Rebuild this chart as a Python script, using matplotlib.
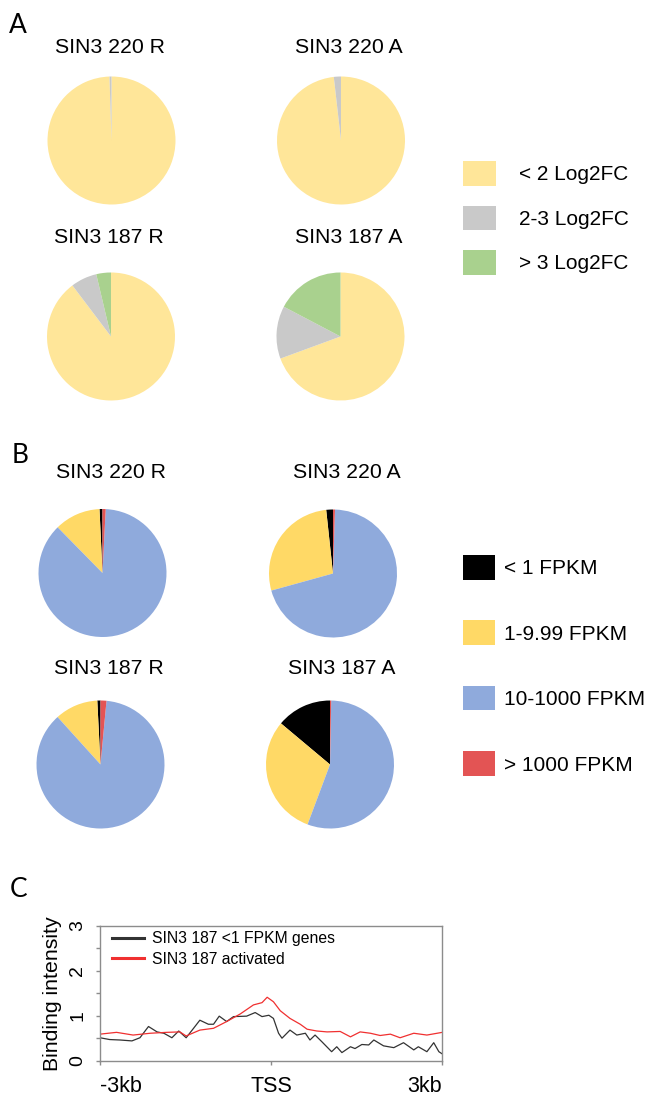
import numpy as np
import matplotlib
matplotlib.use("Agg")
import matplotlib.pyplot as plt
from matplotlib.patches import Patch
from matplotlib.lines import Line2D

plt.rcParams['font.family'] = ['Liberation Sans', 'DejaVu Sans']

# ---- data ----
# panel A: share of genes by Log2FC class
fc_labels = ['< 2 Log2FC', '2-3 Log2FC', '> 3 Log2FC']
fc_colors = ['#FFE699', '#C9C9C9', '#A9D18E']
fc_220_R = [99.5, 0.5, 0.0]
fc_220_A = [98.2, 1.8, 0.0]
fc_187_R = [89.7, 6.6, 3.7]
fc_187_A = [69.4, 13.3, 17.3]

# panel B: share of genes by expression class
fpkm_labels = ['< 1 FPKM', '1-9.99 FPKM', '10-1000 FPKM', '> 1000 FPKM']
fpkm_colors = ['#000000', '#FFD966', '#8FAADC', '#E35454']
fpkm_220_R = [0.75, 11.6, 86.85, 0.8]
fpkm_220_A = [1.7, 27.6, 70.2, 0.5]
fpkm_187_R = [0.8, 10.9, 86.8, 1.5]
fpkm_187_A = [13.9, 30.4, 55.4, 0.3]

pie_titles = ['SIN3 220 R', 'SIN3 220 A', 'SIN3 187 R', 'SIN3 187 A']

# panel C: binding profiles around TSS (kb)
low_x = [-3.0, -2.83, -2.65, -2.44, -2.30, -2.15, -2.00, -1.88, -1.74, -1.62, -1.49,
         -1.36, -1.25, -1.10, -1.01, -0.91, -0.78, -0.66, -0.43, -0.28, -0.16, -0.04,
         0.04, 0.13, 0.19, 0.33, 0.45, 0.60, 0.68, 0.77, 0.89, 1.06, 1.15, 1.24, 1.39,
         1.47, 1.59, 1.71, 1.80, 1.97, 2.15, 2.32, 2.50, 2.58, 2.73, 2.85, 2.94, 3.0]
low_y = [0.51, 0.47, 0.46, 0.44, 0.51, 0.76, 0.64, 0.61, 0.51, 0.66, 0.51,
         0.72, 0.90, 0.81, 0.81, 0.99, 0.87, 0.98, 0.99, 1.07, 0.98, 1.01,
         0.94, 0.61, 0.50, 0.68, 0.57, 0.61, 0.46, 0.57, 0.42, 0.20, 0.31, 0.18, 0.31,
         0.27, 0.36, 0.35, 0.46, 0.33, 0.29, 0.40, 0.24, 0.31, 0.20, 0.40, 0.20, 0.15]
act_x = [-3.0, -2.71, -2.42, -2.12, -1.83, -1.60, -1.49, -1.25, -1.01, -0.78, -0.54,
         -0.31, -0.16, -0.07, 0.04, 0.16, 0.33, 0.51, 0.63, 0.80, 0.98, 1.21, 1.39,
         1.56, 1.74, 1.91, 2.09, 2.26, 2.50, 2.73, 2.91, 3.0]
act_y = [0.59, 0.63, 0.57, 0.61, 0.63, 0.64, 0.55, 0.68, 0.72, 0.87, 1.04,
         1.24, 1.29, 1.41, 1.31, 1.11, 0.94, 0.81, 0.70, 0.66, 0.64, 0.65, 0.53,
         0.64, 0.61, 0.56, 0.59, 0.51, 0.61, 0.57, 0.61, 0.63]
x_ticks = [-3, 0, 3]
x_ticklabels = ['-3kb', 'TSS', '3kb']

W, H = 645, 1095
fig = plt.figure(figsize=(W / 100, H / 100), dpi=100)


def px_axes(x0, y0, w, h):
    return fig.add_axes([x0 / W, 1 - (y0 + h) / H, w / W, h / H])


def px_text(x, y, s, **kw):
    fig.text(x / W, 1 - y / H, s, **kw)


def draw_pie(cx, cy, r, vals, colors, ccw):
    ax = px_axes(cx - r, cy - r, 2 * r, 2 * r)
    ax.pie(vals, colors=colors, startangle=90, counterclock=ccw,
           wedgeprops=dict(linewidth=0))
    ax.set_xlim(-1, 1)
    ax.set_ylim(-1, 1)
    ax.set_aspect('equal')
    ax.axis('off')


# panel letters
px_text(9, 33, 'A', fontsize=19, family=['Lato', 'DejaVu Sans'])
px_text(12, 463, 'B', fontsize=19, family=['Lato', 'DejaVu Sans'])
px_text(10, 897, 'C', fontsize=19, family=['Lato', 'DejaVu Sans'])

# panel A
a_centers = [(111.5, 140.5), (341, 140.5), (111, 336.5), (340.5, 336.5)]
a_title_pos = [(110.3, 53), (349.3, 53), (108.8, 243), (349, 243)]
for (cx, cy), vals in zip(a_centers, [fc_220_R, fc_220_A, fc_187_R, fc_187_A]):
    draw_pie(cx, cy, 64, vals, fc_colors, False)
for (tx, ty), t in zip(a_title_pos, pie_titles):
    px_text(tx, ty, t, fontsize=15.3, ha='center', va='baseline')

fs = 15
fig.legend([Patch(facecolor=c, edgecolor='none') for c in fc_colors], fc_labels,
           loc='upper left', bbox_to_anchor=(463 / W, 1 - 161 / H), frameon=False,
           fontsize=fs, handlelength=33 / (fs * 100 / 72), handleheight=30 / (fs * 100 / 72),
           labelspacing=0.96, handletextpad=1.1, borderpad=0, borderaxespad=0)

# panel B
b_centers = [(102.5, 573), (333, 573.5), (100.5, 764.5), (330, 764.5)]
b_title_pos = [(110.8, 478), (346.7, 478), (108.8, 674), (341.7, 674)]
for (cx, cy), vals in zip(b_centers, [fpkm_220_R, fpkm_220_A, fpkm_187_R, fpkm_187_A]):
    draw_pie(cx, cy, 64, vals, fpkm_colors, True)
for (tx, ty), t in zip(b_title_pos, pie_titles):
    px_text(tx, ty, t, fontsize=15.3, ha='center', va='baseline')

fig.legend([Patch(facecolor=c, edgecolor='none') for c in fpkm_colors], fpkm_labels,
           loc='upper left', bbox_to_anchor=(463 / W, 1 - 555 / H), frameon=False,
           fontsize=fs, handlelength=32 / (fs * 100 / 72), handleheight=30 / (fs * 100 / 72),
           labelspacing=1.96, handletextpad=0.45, borderpad=0, borderaxespad=0)

# panel C
ax = px_axes(100, 925.7, 342.3, 135)
ax.plot(low_x, low_y, color='#333333', lw=0.9)
ax.plot(act_x, act_y, color='#F03030', lw=0.9)
ax.set_xlim(-3, 3)
ax.set_ylim(0, 3)
for s in ax.spines.values():
    s.set_color('#8c8c8c')
    s.set_linewidth(1)
ax.set_yticks([0, 1, 2, 3])
ax.set_yticks([0.5, 1.5, 2.5], minor=True)
ax.set_yticklabels(['0', '1', '2', '3'], rotation=90, va='center', fontsize=14)
ax.set_xticks(x_ticks)
ax.set_xticklabels(x_ticklabels, fontsize=15.5)
labs = ax.get_xticklabels()
labs[0].set_ha('left')
labs[2].set_ha('right')
ax.tick_params(axis='both', which='both', color='#8c8c8c', length=3, width=1)
ax.tick_params(axis='y', pad=7)
ax.tick_params(axis='x', pad=8)
ax.set_ylabel('Binding intensity', fontsize=15.3, labelpad=5)
handles = [Line2D([], [], color='#333333', lw=2.2), Line2D([], [], color='#F03030', lw=2.2)]
ax.legend(handles, ['SIN3 187 <1 FPKM genes', 'SIN3 187 activated'], loc='upper left',
          bbox_to_anchor=(0.035, 0.96), frameon=False, fontsize=11.3,
          handlelength=2.05, handletextpad=0.5, labelspacing=0.35, borderpad=0,
          borderaxespad=0)

fig.savefig('out.png', dpi=100)
